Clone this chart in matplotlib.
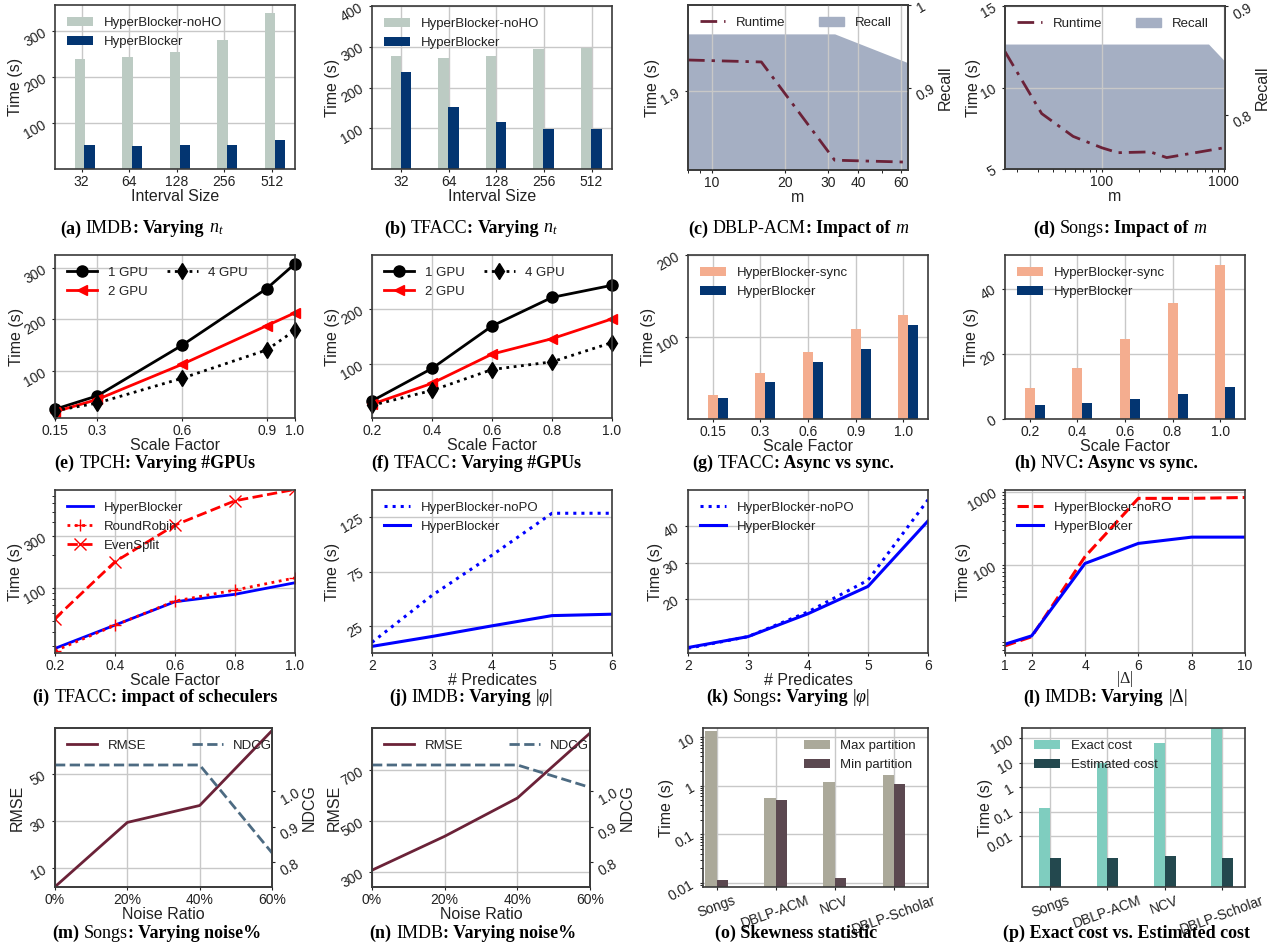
import numpy as np
import matplotlib
matplotlib.use('Agg')
import matplotlib.pyplot as plt
from matplotlib.patches import Patch
from matplotlib.lines import Line2D
from matplotlib.ticker import NullFormatter

plt.rcParams['font.family'] = ['Liberation Sans', 'DejaVu Sans']
plt.rcParams['mathtext.fontset'] = 'custom'
plt.rcParams['mathtext.rm'] = 'Liberation Serif'
plt.rcParams['mathtext.it'] = 'Liberation Serif:italic'
plt.rcParams['mathtext.bf'] = 'Liberation Serif:bold'

# ---- data ----
interval = ['32', '64', '128', '256', '512']
imdb_noho = [239, 243, 254, 280, 339]
imdb_hb = [53, 51, 53, 53, 64]
tfacc_noho = [277, 273, 277, 294, 297]
tfacc_hb = [238, 153, 116, 97, 97]

acm_m = [8, 16, 32, 64]
acm_runtime = [1.916, 1.915, 1.865, 1.864]
acm_recall = [0.965, 0.965, 0.965, 0.93]

songs_m = [16, 32, 58, 100, 135, 250, 340, 1000]
songs_runtime = [12.2, 8.4, 7.0, 6.3, 6.0, 6.05, 5.7, 6.3]
songs_recall_m = [16, 750, 1024]
songs_recall = [0.865, 0.865, 0.849]

tpch_sf = [0.15, 0.3, 0.6, 0.9, 1.0]
tpch_1gpu = [26, 52, 150, 260, 308]
tpch_2gpu = [21, 45, 113, 188, 213]
tpch_4gpu = [23, 38, 86, 141, 179]

tfacc_sf = [0.2, 0.4, 0.6, 0.8, 1.0]
tfacc_1gpu = [33, 92, 169, 221, 243]
tfacc_2gpu = [27, 65, 118, 146, 182]
tfacc_4gpu = [25, 52, 90, 104, 139]

g_sf = ['0.15', '0.3', '0.6', '0.9', '1.0']
g_sync = [29, 56, 82, 110, 127]
g_hb = [26, 45, 69, 85, 115]
h_sf = ['0.2', '0.4', '0.6', '0.8', '1.0']
h_sync = [9.6, 15.7, 24.5, 35.7, 47.2]
h_hb = [4.3, 4.9, 6.1, 7.7, 9.8]

i_sf = [0.2, 0.4, 0.6, 0.8, 1.0]
i_hb = [28.3, 46.2, 75.5, 88.2, 112.5]
i_rr = [26.9, 46.0, 76.5, 96.5, 124.5]
i_es = [53, 175, 378, 630, 800]

preds = [2, 3, 4, 5, 6]
j_nopo = [9.8, 53, 90, 128.6, 128.6]
j_hb = [6.1, 15.2, 25, 34.4, 35.7]
k_nopo = [6.5, 9.7, 16.5, 25.2, 47.3]
k_hb = [6.7, 9.7, 16.0, 23.5, 41.5]

delta = [1, 2, 4, 6, 8, 10]
l_noro = [7.9, 10.5, 130, 811, 811, 834]
l_hb = [8.3, 10.8, 105, 197, 240, 240]

noise = ['0%', '20%', '40%', '60%']
m_rmse = [2, 29.4, 36.6, 68.5]
m_ndcg = [1.073, 1.073, 1.073, 0.826]
n_rmse = [307, 440, 590, 845]
n_ndcg = [1.073, 1.073, 1.073, 1.01]

datasets = ['Songs', 'DBLP-ACM', 'NCV', 'DBLP-Scholar']
o_max = [13.3, 0.57, 1.2, 1.68]
o_min = [0.0115, 0.52, 0.0127, 1.1]
p_exact = [0.14, 9.5, 62, 250]
p_est = [0.0013, 0.0013, 0.0016, 0.0013]

# ---- colours ----
C_NOHO = '#bccbc3'
C_HB = '#033571'
C_SYNC = '#f4ad8f'
C_RUN = '#6b2238'
C_REC = '#a5afc3'
C_NDCG = '#4d6b82'

W, H = 1278, 949
fig = plt.figure(figsize=(W / 100, H / 100), dpi=100)


def box(l, t, r, b):
    return fig.add_axes([l / W, 1 - b / H, (r - l) / W, (b - t) / H])


def style(ax):
    ax.grid(True, which='major', color='#c8c8c8', lw=1)
    ax.set_axisbelow(True)
    for s in ax.spines.values():
        s.set_color('#3a3a3a')
        s.set_linewidth(1.2)
    ax.tick_params(labelsize=10, length=2.5, colors='#222222', pad=2)
    ax.tick_params(axis='y', labelrotation=30)


def labels(ax, xl, yl='Time (s)', ylx=-40, xpad=0):
    if xl:
        ax.set_xlabel(xl, fontsize=11.5, labelpad=xpad, color='#222222')
    ax.set_ylabel(yl, fontsize=11.5, color='#222222')
    wpx = ax.get_position().width * W
    ax.yaxis.set_label_coords((ylx + 8) / wpx, 0.5)


def leg(ax, **kw):
    opts = dict(frameon=False, fontsize=9.5, loc='upper left')
    opts.update(kw)
    lg = ax.legend(**opts)
    for t in lg.get_texts():
        t.set_color('#222222')
    return lg


def caption(cx, cy, parts):
    r = fig.canvas.get_renderer()
    gap = 13 * 100 / 72 * 0.25
    items = []
    for s, w, g in parts:
        t = fig.text(0, 1 - cy / H, s, fontsize=13, family='Liberation Serif',
                     weight=w, va='center', ha='left', color='black')
        items.append((t, t.get_window_extent(r).width, g))
    total = sum(wd for _, wd, _ in items) + sum(gap for _, _, g in items[1:] if g)
    x = cx - total / 2
    for k, (t, wd, g) in enumerate(items):
        if k > 0 and g:
            x += gap
        t.set_x(x / W)
        x += wd


def bars(ax, cats, a, b, la, lb, ca, xa, xb, wd, xlim):
    x = np.arange(len(cats))
    ax.bar(x + xa, a, wd, color=ca, label=la)
    ax.bar(x + xb, b, wd, color=C_HB, label=lb)
    ax.set_xticks(x, cats)
    ax.set_xlim(*xlim)


# (a)
ax = box(55, 5, 295, 169)
style(ax)
bars(ax, interval, imdb_noho, imdb_hb, 'HyperBlocker-noHO', 'HyperBlocker', C_NOHO,
     -0.035, 0.17, 0.22, (-0.56, 4.49))
ax.set_ylim(0, 357)
ax.set_yticks([100, 200, 300])
labels(ax, 'Interval Size', ylx=-40)
leg(ax)

# (b)
ax = box(372, 6, 612, 169)
style(ax)
bars(ax, interval, tfacc_noho, tfacc_hb, 'HyperBlocker-noHO', 'HyperBlocker', C_NOHO,
     -0.11, 0.1, 0.22, (-0.61, 4.43))
ax.set_ylim(0, 400)
ax.set_yticks([100, 200, 300, 400])
labels(ax, 'Interval Size', ylx=-40)
leg(ax)


def runtime_recall(box_, m, rt, rm, rc, ylim, yt, ylim2, yt2, xlim, xt, ylx):
    ax = box(*box_)
    style(ax)
    ax2 = ax.twinx()
    ax.set_zorder(ax2.get_zorder() + 1)
    ax.patch.set_visible(False)
    ax2.fill_between(rm, ylim2[0], rc, color=C_REC, lw=0)
    ax.plot(m, rt, color=C_RUN, lw=2, dashes=(6, 2.5, 1.2, 2.5))
    ax.set_xscale('log')
    ax.set_xlim(*xlim)
    ax.set_xticks(xt, [str(v) for v in xt])
    ax.xaxis.set_minor_formatter(NullFormatter())
    ax.set_ylim(*ylim)
    ax.set_yticks(yt)
    ax2.set_ylim(*ylim2)
    ax2.set_yticks(yt2)
    ax2.tick_params(labelsize=10, length=2.5, colors='#222222', pad=2, labelrotation=30)
    for s in ax2.spines.values():
        s.set_color('#3a3a3a')
        s.set_linewidth(1.2)
    ax2.set_ylabel('Recall', fontsize=11.5, color='#222222', labelpad=0)
    labels(ax, 'm', ylx=ylx)
    hs = [Line2D([], [], color=C_RUN, lw=2, dashes=(6, 2.5, 1.2, 2.5)),
          Patch(color=C_REC)]
    leg(ax, handles=hs, labels=['Runtime', 'Recall'], ncol=2, columnspacing=2.6,
        handlelength=1.9)
    return ax, ax2


# (c)
ax, ax2 = runtime_recall((688, 5, 908, 170), acm_m, acm_runtime, acm_m, acm_recall,
                         (1.86, 1.944), [1.9], (0.8, 1.0), [0.9, 1.0], (8, 64),
                         [10, 20, 30, 40, 60], -36)
ax2.set_yticklabels(['0.9', '1'])

# (d)
ax, ax2 = runtime_recall((1005, 6, 1225, 169), songs_m, songs_runtime, songs_recall_m,
                         songs_recall, (5, 15), [5, 10, 15], (0.75, 0.9), [0.8, 0.9],
                         (16, 1024), [100, 1000], -32)


def gpus(box_, sf, sfl, g1, g2, g4, ylim, yt, ylx):
    ax = box(*box_)
    style(ax)
    ax.plot(sf, g1, color='black', lw=2, marker='o', ms=8, label='1 GPU', clip_on=False)
    ax.plot(sf, g2, color='red', lw=2, marker='<', ms=7, label='2 GPU', clip_on=False)
    ax.plot(sf, g4, color='black', lw=2, ls=':', marker='d', ms=8, label='4 GPU',
            clip_on=False)
    ax.set_xlim(sf[0], sf[-1])
    ax.set_xticks(sf, sfl)
    ax.set_ylim(*ylim)
    ax.set_yticks(yt)
    labels(ax, 'Scale Factor', ylx=ylx)
    leg(ax, ncol=2, columnspacing=1.5, handlelength=2.3)
    return ax


# (e)
ax = gpus((55, 255, 295, 418), tpch_sf, ['0.15', '0.3', '0.6', '0.9', '1.0'],
          tpch_1gpu, tpch_2gpu, tpch_4gpu, (9, 325), [100, 200, 300], -39)
# (f)
ax = gpus((372, 255, 612, 418), tfacc_sf, ['0.2', '0.4', '0.6', '0.8', '1.0'],
          tfacc_1gpu, tfacc_2gpu, tfacc_4gpu, (2, 298), [100, 200], -40)

# (g)
ax = box(688, 255, 928, 419)
style(ax)
bars(ax, g_sf, g_sync, g_hb, 'HyperBlocker-sync', 'HyperBlocker', C_SYNC,
     0.0, 0.21, 0.21, (-0.52, 4.52))
ax.set_ylim(0, 200)
ax.set_yticks([100, 200])
labels(ax, 'Scale Factor', ylx=-40)
leg(ax)

# (h)
ax = box(1005, 255, 1245, 419)
style(ax)
bars(ax, h_sf, h_sync, h_hb, 'HyperBlocker-sync', 'HyperBlocker', C_SYNC,
     0.0, 0.21, 0.21, (-0.52, 4.52))
ax.set_ylim(0, 50.3)
ax.set_yticks([0, 20, 40])
labels(ax, 'Scale Factor', ylx=-34)
leg(ax)

# (i)
ax = box(55, 490, 295, 653)
style(ax)
ax.plot(i_sf, i_hb, color='blue', lw=2, label='HyperBlocker')
ax.plot(i_sf, i_rr, color='red', lw=2, ls=':', marker='+', ms=8, label='RoundRobin')
ax.plot(i_sf, i_es, color='red', lw=2, ls='--', marker='x', ms=8, label='EvenSplit')
ax.set_yscale('log')
ax.set_xlim(0.2, 1.0)
ax.set_xticks(i_sf, ['0.2', '0.4', '0.6', '0.8', '1.0'])
ax.set_ylim(25.7, 790)
ax.set_yticks([100, 300], ['100', '300'])
ax.yaxis.set_minor_formatter(NullFormatter())
labels(ax, 'Scale Factor', ylx=-40)
leg(ax)

# (j)
ax = box(372, 490, 612, 653)
style(ax)
ax.plot(preds, j_nopo, color='blue', lw=2.2, ls=':', label='HyperBlocker-noPO')
ax.plot(preds, j_hb, color='blue', lw=2.2, label='HyperBlocker')
ax.set_xlim(2, 6)
ax.set_xticks(preds)
ax.set_ylim(0, 150)
ax.set_yticks([25, 75, 125])
labels(ax, '# Predicates', ylx=-40)
leg(ax)

# (k)
ax = box(688, 490, 928, 653)
style(ax)
ax.plot(preds, k_nopo, color='blue', lw=2.2, ls=':', label='HyperBlocker-noPO')
ax.plot(preds, k_hb, color='blue', lw=2.2, label='HyperBlocker')
ax.set_xlim(2, 6)
ax.set_xticks(preds)
ax.set_ylim(5.2, 50)
ax.set_yticks([20, 30, 40])
labels(ax, '# Predicates', ylx=-33)
leg(ax)

# (l)
ax = box(1005, 490, 1245, 653)
style(ax)
ax.plot(delta, l_noro, color='red', lw=2.2, ls='--', label='HyperBlocker-noRO')
ax.plot(delta, l_hb, color='blue', lw=2.2, label='HyperBlocker')
ax.set_yscale('log')
ax.set_xlim(1, 10)
ax.set_xticks(delta)
ax.set_ylim(6.3, 1055)
ax.set_yticks([100, 1000], ['100', '1000'])
ax.yaxis.set_minor_formatter(NullFormatter())
labels(ax, r'$|\Delta|$', ylx=-42, xpad=-3)
leg(ax)


def noise_plot(box_, rmse, ndcg, ylim, yt, ylim2, yt2):
    ax = box(*box_)
    style(ax)
    ax2 = ax.twinx()
    x = np.arange(len(noise))
    ax.plot(x, rmse, color=C_RUN, lw=2, label='RMSE')
    ax2.plot(x, ndcg, color=C_NDCG, lw=2, ls='--', label='NDCG')
    ax.set_xlim(0, len(noise) - 1)
    ax.set_xticks(x, noise)
    ax.set_ylim(*ylim)
    ax.set_yticks(yt)
    ax2.set_ylim(*ylim2)
    ax2.set_yticks(yt2)
    ax2.tick_params(labelsize=10, length=2.5, colors='#222222', pad=2, labelrotation=30)
    for s in ax2.spines.values():
        s.set_color('#3a3a3a')
        s.set_linewidth(1.2)
    ax2.set_ylabel('NDCG', fontsize=11.5, color='#222222', labelpad=0)
    labels(ax, 'Noise Ratio', 'RMSE', ylx=-38)
    hs = [Line2D([], [], color=C_RUN, lw=2), Line2D([], [], color=C_NDCG, lw=2, ls='--')]
    leg(ax, handles=hs, labels=['RMSE', 'NDCG'], ncol=2, columnspacing=3.5,
        handlelength=2.3)
    return ax, ax2


# (m)
noise_plot((55, 728, 272, 887), m_rmse, m_ndcg, (1.9, 69.6), [10, 30, 50],
           (0.73, 1.177), [0.8, 0.9, 1.0])
# (n)
noise_plot((372, 728, 590, 887), n_rmse, n_ndcg, (241, 865), [300, 500, 700],
           (0.73, 1.177), [0.8, 0.9, 1.0])


def cost_bars(box_, a, b, la, lb, ca, cb, ylim, yt, ytl, xlim, wd):
    ax = box(*box_)
    style(ax)
    x = np.arange(len(datasets))
    ax.bar(x - wd / 2, a, wd, color=ca, label=la)
    ax.bar(x + wd / 2, b, wd, color=cb, label=lb)
    ax.set_yscale('log')
    ax.set_ylim(*ylim)
    ax.set_yticks(yt, ytl)
    ax.yaxis.set_minor_formatter(NullFormatter())
    ax.set_xticks(x, datasets)
    ax.tick_params(axis='x', labelrotation=20)
    ax.set_xlim(*xlim)
    labels(ax, None, ylx=-37)
    return ax


# (o)
ax = cost_bars((703, 728, 928, 887), o_max, o_min, 'Max partition', 'Min partition',
               '#aba99a', '#5b4850', (0.0083, 15.3), [0.01, 0.1, 1, 10],
               ['0.01', '0.1', '1', '10'], (-0.23, 3.58), 0.19)
leg(ax, loc='upper right')
# (p)
ax = cost_bars((1022, 728, 1245, 887), p_exact, p_est, 'Exact cost', 'Estimated cost',
               '#7fcdbf', '#23484e', (8.3e-5, 256), [0.01, 0.1, 1, 10, 100],
               ['0.01', '0.1', '1', '10', '100'], (-0.49, 3.40), 0.19)
leg(ax, loc='upper left')

# ---- captions ----
B, N = 'bold', 'normal'
caption(142, 229, [('(a)', B, 0), ('IMDB', N, 1), (':', B, 0), ('Varying', B, 1), ('$n_t$', N, 1)])
caption(471, 229, [('(b)', B, 0), ('TFACC', N, 1), (':', B, 0), ('Varying', B, 1), ('$n_t$', N, 1)])
caption(799, 229, [('(c)', B, 0), ('DBLP-ACM', N, 1), (':', B, 0), ('Impact of', B, 1), ('$m$', N, 1)])
caption(1120, 229, [('(d)', B, 0), ('Songs', N, 1), (':', B, 0), ('Impact of', B, 1), ('$m$', N, 1)])
caption(155, 463, [('(e)', B, 0), ('TPCH', N, 1), (': Varying #GPUs', B, 0)])
caption(476, 463, [('(f)', B, 0), ('TFACC', N, 1), (': Varying #GPUs', B, 0)])
caption(793, 463, [('(g)', B, 0), ('TFACC', N, 1), (': Async vs sync.', B, 0)])
caption(1106, 463, [('(h)', B, 0), ('NVC', N, 1), (': Async vs sync.', B, 0)])
caption(155, 697, [('(i)', B, 0), ('TFACC', N, 1), (': impact of scheculers', B, 0)])
caption(471, 697, [('(j)', B, 0), ('IMDB', N, 1), (': Varying', B, 0), (r'$|\varphi|$', N, 1)])
caption(788, 697, [('(k)', B, 0), ('Songs', N, 1), (': Varying', B, 0), (r'$|\varphi|$', N, 1)])
caption(1105, 698, [('(l)', B, 0), ('IMDB', N, 1), (': Varying', B, 0), (r'$|\Delta|$', N, 1)])
caption(157, 933, [('(m)', B, 0), ('Songs', N, 1), (': Varying noise%', B, 0)])
caption(473, 933, [('(n)', B, 0), ('IMDB', N, 1), (': Varying noise%', B, 0)])
caption(796, 933, [('(o) Skewness statistic', B, 0)])
caption(1126, 933, [('(p) Exact cost vs. Estimated cost', B, 0)])

fig.savefig('out.png', dpi=100)
